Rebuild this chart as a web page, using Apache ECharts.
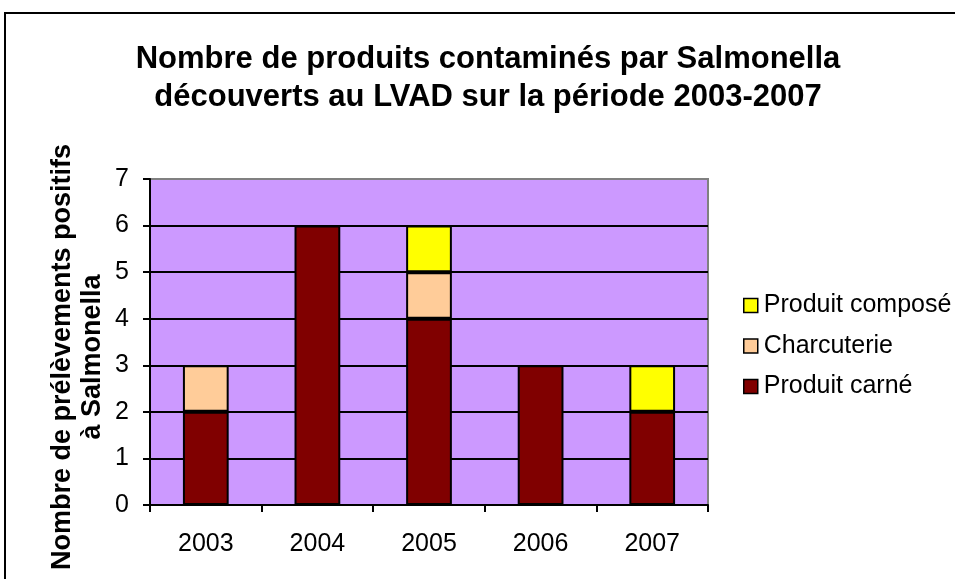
<!DOCTYPE html>
<html>
<head>
<meta charset="utf-8">
<script src="https://cdn.jsdelivr.net/npm/echarts@6/dist/echarts.min.js"></script>
<style>
  html, body { margin: 0; padding: 0; background: #fff; }
  #chart { width: 955px; height: 579px; }
</style>
</head>
<body>
<div id="chart"></div>
<script>
// années
const years = ['2003', '2004', '2005', '2006', '2007'];
// séries (null = pas de prélèvement)
const produitCarne = [2, 6, 4, 3, 2];
const charcuterie = [1, null, 1, null, null];
const produitCompose = [null, null, 1, null, 1];
const yTicks = [0, 1, 2, 3, 4, 5, 6, 7];
const yTitle = ['Nombre de prélèvements positifs', 'à Salmonella'];

const font = '"Liberation Sans", Arial, sans-serif';
const chart = echarts.init(document.getElementById('chart'));

function barSeries(name, data, color) {
  return {
    name: name,
    type: 'bar',
    stack: 'total',
    data: data,
    barWidth: '41%',
    itemStyle: { color: color, borderColor: '#000', borderWidth: 2 },
    emphasis: { disabled: true }
  };
}

// titre de l'axe vertical, deux lignes tournées
function yTitleLine(text, x) {
  return {
    type: 'text',
    x: x, y: 357,
    rotation: Math.PI / 2,
    silent: true,
    style: {
      text: text,
      fill: '#000',
      font: 'bold 27px ' + font,
      textAlign: 'center',
      textVerticalAlign: 'middle'
    }
  };
}

chart.setOption({
  animation: false,
  textStyle: { fontFamily: font },
  title: {
    text: 'Nombre de produits contaminés par Salmonella\ndécouverts au LVAD sur la période 2003-2007',
    left: 483,
    textAlign: 'center',
    top: 35,
    textStyle: { fontFamily: font, fontSize: 31, fontWeight: 'bold', color: '#000', lineHeight: 38 }
  },
  graphic: [{
    type: 'rect',
    shape: { x: 5, y: 13, width: 1000, height: 1000 },
    style: { fill: 'none', stroke: '#000', lineWidth: 2 },
    silent: true
  },
    yTitleLine(yTitle[0], 63),
    yTitleLine(yTitle[1], 93)
  ],
  legend: {
    orient: 'vertical',
    left: 738,
    top: 288,
    itemWidth: 14,
    itemHeight: 14,
    itemGap: 15.5,
    icon: 'rect',
    data: ['Produit composé', 'Charcuterie', 'Produit carné'],
    itemStyle: { borderColor: '#000', borderWidth: 1.5 },
    textStyle: { fontFamily: font, fontSize: 25, color: '#000', padding: [0, 0, 0, 1] }
  },
  grid: {
    left: 150, top: 179, right: 247, bottom: 74,
    show: true,
    backgroundColor: '#CC99FF',
    borderColor: '#808080',
    borderWidth: 2
  },
  xAxis: {
    type: 'category',
    data: years,
    axisLine: { lineStyle: { color: '#000', width: 2 } },
    axisTick: { show: true, length: 7, lineStyle: { color: '#000', width: 2 } },
    axisLabel: { color: '#000', fontSize: 25, margin: 27 }
  },
  yAxis: {
    type: 'value',
    min: yTicks[0],
    max: yTicks[yTicks.length - 1],
    interval: 1,
    axisLine: { show: true, lineStyle: { color: '#000', width: 2 } },
    axisTick: { show: true, length: 7, lineStyle: { color: '#000', width: 2 } },
    axisLabel: { color: '#000', fontSize: 25, margin: 21 },
    splitLine: {
      show: true,
      lineStyle: { color: ['#000', '#000', '#000', '#000', '#000', '#000', '#000', '#808080'], width: 2 }
    }
  },
  series: [
    barSeries('Produit carné', produitCarne, '#800000'),
    barSeries('Charcuterie', charcuterie, '#FFCC99'),
    barSeries('Produit composé', produitCompose, '#FFFF00')
  ]
});
</script>
</body>
</html>
